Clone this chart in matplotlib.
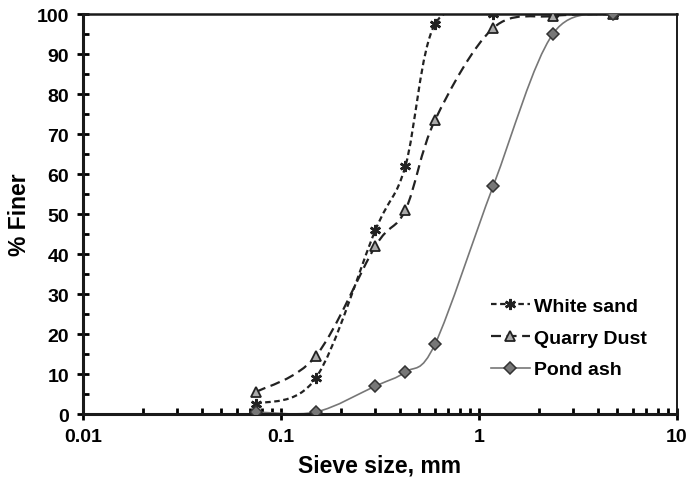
import numpy as np
import matplotlib
matplotlib.use("Agg")
from matplotlib import pyplot as plt
from matplotlib.path import Path
from matplotlib.patches import PathPatch
from matplotlib.lines import Line2D
from matplotlib.ticker import FixedLocator, NullFormatter

plt.rcParams['font.family'] = ['Liberation Sans', 'DejaVu Sans']
plt.rcParams['font.weight'] = 'bold'

# sieve sizes (mm) and percent finer
sieve = [0.075, 0.15, 0.3, 0.425, 0.6, 1.18, 2.36, 4.75]
white_sand = [2.5, 9, 46, 62, 97.5, 100, 100, 100]
quarry_dust = [5.5, 14.5, 42, 51, 73.5, 96.5, 99.5, 100]
pond_ash = [0.5, 0.5, 7, 10.5, 17.5, 57, 95, 100]


def smooth_path(x, y, t=1 / 6):
    # bezier through the points (excel style smoothed line), built in log-x space
    lx = np.log10(x)
    y = np.asarray(y, float)
    n = len(lx)
    verts = [(x[0], y[0])]
    codes = [Path.MOVETO]
    for i in range(n - 1):
        p0 = (lx[max(i - 1, 0)], y[max(i - 1, 0)])
        p1 = (lx[i], y[i])
        p2 = (lx[i + 1], y[i + 1])
        p3 = (lx[min(i + 2, n - 1)], y[min(i + 2, n - 1)])
        c1 = (p1[0] + t * (p2[0] - p0[0]), p1[1] + t * (p2[1] - p0[1]))
        c2 = (p2[0] - t * (p3[0] - p1[0]), p2[1] - t * (p3[1] - p1[1]))
        for c in (c1, c2, p2):
            verts.append((10 ** c[0], c[1]))
            codes.append(Path.CURVE4)
    return Path(verts, codes)


fig = plt.figure(figsize=(6.87, 4.85), dpi=100)
ax = fig.add_axes([0.1208, 0.1443, 0.8646, 0.8247])
ax.set_xscale('log')
ax.set_xlim(0.01, 10)
ax.set_ylim(0, 100)

ws_dash = (0, (2.5, 1.6))
qd_dash = (0, (4.5, 2.5))

ax.add_patch(PathPatch(smooth_path(sieve, quarry_dust), fill=False, lw=1.6,
                       ls=qd_dash, edgecolor='#222222', zorder=2))
ax.add_patch(PathPatch(smooth_path(sieve, white_sand), fill=False, lw=1.6,
                       ls=ws_dash, edgecolor='#222222', zorder=2))
ax.add_patch(PathPatch(smooth_path(sieve, pond_ash), fill=False, lw=1.2,
                       ls='-', edgecolor='#777777', zorder=2))

ax.plot(sieve, white_sand, ls='none', marker=(6, 2, 0), ms=8, mew=1.8,
        color='#222222', zorder=3)
ax.plot(sieve, quarry_dust, ls='none', marker='^', ms=7, mew=1.3,
        mfc='#aaaaaa', mec='#222222', zorder=3)
ax.plot(sieve, pond_ash, ls='none', marker='D', ms=6, mew=1.1,
        mfc='#777777', mec='#333333', zorder=4)

handles = [
    Line2D([], [], ls=ws_dash, lw=1.6, color='#222222', marker=(6, 2, 0), ms=8, mew=1.8),
    Line2D([], [], ls=qd_dash, lw=1.6, color='#222222', marker='^', ms=7, mew=1.3,
           mfc='#aaaaaa', mec='#222222'),
    Line2D([], [], ls='-', lw=1.2, color='#777777', marker='D', ms=6, mew=1.1,
           mfc='#777777', mec='#333333'),
]
ax.legend(handles, ['White sand', 'Quarry Dust', 'Pond ash'], loc='lower right',
          bbox_to_anchor=(0.975, 0.05), frameon=False, fontsize=14,
          handlelength=2.0, handletextpad=0.2, labelspacing=0.72, borderpad=0.3)

# ticks
ax.set_xticks([0.01, 0.1, 1, 10])
ax.set_xticklabels(['0.01', '0.1', '1', '10'])
ax.xaxis.set_minor_locator(FixedLocator(
    [m * 10.0 ** e for e in (-2, -1, 0) for m in range(2, 10)]))
ax.xaxis.set_minor_formatter(NullFormatter())
ax.set_yticks(range(0, 101, 10))
ax.yaxis.set_minor_locator(FixedLocator(range(5, 100, 10)))
ax.tick_params(axis='both', which='major', direction='inout', length=8, width=2,
               labelsize=14, pad=6)
ax.tick_params(axis='x', which='minor', direction='in', length=4, width=2)
ax.tick_params(axis='y', which='minor', direction='in', length=4, width=2)

for side in ('left', 'bottom'):
    ax.spines[side].set_linewidth(2.2)
ax.spines['top'].set_linewidth(1.8)
ax.spines['right'].set_linewidth(1.4)
for s in ax.spines.values():
    s.set_color('#1a1a1a')

ax.set_xlabel('Sieve size, mm', fontsize=16.5, fontweight='bold', labelpad=6)
ax.set_ylabel('% Finer', fontsize=16.5, fontweight='bold', labelpad=4)

fig.savefig('out.png', dpi=100)
